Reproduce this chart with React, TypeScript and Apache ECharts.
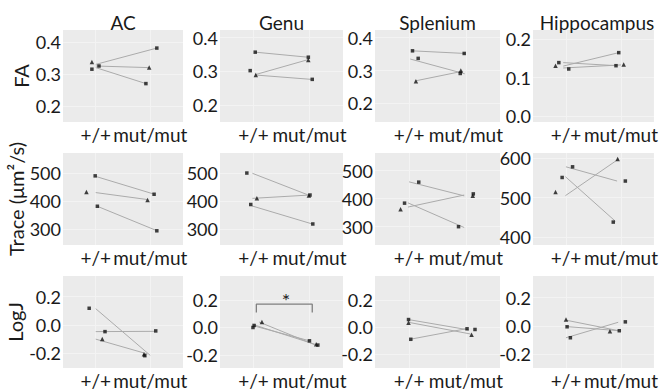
import React, { useEffect, useRef } from 'react';
import * as echarts from 'echarts';

const REGIONS = ['AC', 'Genu', 'Splenium', 'Hippocampus'];
const METRICS = ['FA', 'Trace (μm²/s)', 'LogJ'];
const GENOTYPES = ['+/+', 'mut/mut'];

// y tick labels per metric, per region
const FA_TICKS = [[0.2, 0.3, 0.4], [0.2, 0.3, 0.4], [0.2, 0.3, 0.4], [0.0, 0.1, 0.2]];
const TRACE_TICKS = [[300, 400, 500], [300, 400, 500], [300, 400, 500], [400, 500, 600]];
const LOGJ_TICKS = [[-0.2, 0.0, 0.2], [-0.2, 0.0, 0.2], [-0.2, 0.0, 0.2], [-0.2, 0.0, 0.2]];

// y extents per panel
const FA_RANGE = [[0.15, 0.4375], [0.149, 0.423], [0.143, 0.4235], [-0.0157, 0.224]];
const TRACE_RANGE = [[242, 572], [242.5, 573], [234.6, 563], [380, 613]];
const LOGJ_RANGE = [[-0.304, 0.346], [-0.295, 0.375], [-0.3, 0.376], [-0.3, 0.354]];

// points: [genotype position (jittered), value]
const FA_SQUARES = [
  [[0.93, 0.315], [1.06, 0.325], [2.12, 0.381], [1.92, 0.27]],
  [[1.03, 0.357], [0.94, 0.302], [1.98, 0.342], [2.05, 0.276]],
  [[1.06, 0.36], [1.16, 0.337], [1.97, 0.352], [1.9, 0.291]],
  [[0.87, 0.139], [1.05, 0.1224], [1.96, 0.165], [1.91, 0.131]],
];
const FA_TRIANGLES = [
  [[0.93, 0.3375], [1.98, 0.32]],
  [[1.04, 0.289], [1.98, 0.334]],
  [[1.12, 0.267], [1.91, 0.3]],
  [[0.81, 0.131], [2.05, 0.134]],
];
const FA_LINKS = [
  [[1.0, 0.33, 2.12, 0.381], [1.0, 0.325, 1.97, 0.32], [1.0, 0.32, 1.92, 0.27]],
  [[1.03, 0.357, 1.97, 0.342], [1.03, 0.29, 1.98, 0.335], [1.03, 0.289, 2.03, 0.276]],
  [[1.05, 0.36, 1.98, 0.352], [1.02, 0.335, 1.98, 0.29], [1.1, 0.268, 1.95, 0.298]],
  [[0.95, 0.13, 1.96, 0.165], [0.95, 0.139, 1.92, 0.131], [0.95, 0.125, 2.0, 0.133]],
];

const TRACE_SQUARES = [
  [[0.99, 490], [1.03, 381], [2.07, 424], [2.12, 293]],
  [[0.88, 501], [0.95, 388], [2.01, 422], [2.06, 318]],
  [[1.17, 459], [0.92, 384], [2.13, 417], [1.87, 300]],
  [[0.93, 551], [1.12, 578], [2.08, 542], [1.86, 438]],
];
const TRACE_TRIANGLES = [
  [[0.83, 432], [1.95, 403]],
  [[1.06, 410], [1.99, 420]],
  [[0.85, 362], [2.12, 410]],
  [[0.81, 514], [1.94, 598]],
];
const TRACE_LINKS = [
  [[1.0, 488, 2.06, 425], [1.0, 430, 1.95, 405], [1.04, 380, 2.1, 295]],
  [[0.98, 500, 1.98, 422], [0.98, 410, 2.0, 422], [0.97, 383, 2.05, 318]],
  [[1.0, 460, 1.97, 410], [0.98, 370, 1.97, 413], [0.98, 385, 1.97, 297]],
  [[1.0, 578, 1.93, 542], [0.99, 553, 1.9, 440], [0.99, 505, 1.96, 598]],
];

const LOGJ_SQUARES = [
  [[0.88, 0.118], [1.17, -0.047], [2.1, -0.042], [1.9, -0.217]],
  [[0.99, 0.0], [1.01, 0.015], [2.0, -0.097], [2.15, -0.128]],
  [[0.99, 0.056], [1.03, -0.089], [2.02, -0.012], [2.16, -0.017]],
  [[1.02, -0.007], [1.08, -0.085], [1.97, -0.035], [2.08, 0.028]],
];
const LOGJ_TRIANGLES = [
  [[1.12, -0.099], [1.885, -0.207]],
  [[1.15, 0.04], [2.12, -0.122]],
  [[0.99, 0.032], [2.1, -0.055]],
  [[1.0, 0.045], [1.8, -0.038]],
];
const LOGJ_LINKS = [
  [[1.0, 0.115, 2.0, -0.215], [1.0, -0.047, 2.08, -0.045], [1.0, -0.1, 1.95, -0.205]],
  [[1.0, 0.02, 2.12, -0.125], [1.02, 0.01, 2.0, -0.097], [1.1, 0.04, 2.12, -0.13]],
  [[1.0, 0.055, 2.05, -0.02], [1.0, 0.035, 2.08, -0.05], [1.03, -0.088, 2.0, -0.012]],
  [[1.0, 0.04, 1.96, -0.035], [1.0, -0.005, 1.96, -0.035], [1.0, -0.085, 1.95, 0.025]],
];

// significance bracket (Genu, LogJ)
const BRACKET = [[1.05, 0.11], [1.05, 0.17], [2.05, 0.17], [2.05, 0.11]];
const STAR = [1.58, 0.2];
const STAR_TEXT = '*';

const TICKS = [FA_TICKS, TRACE_TICKS, LOGJ_TICKS];
const RANGES = [FA_RANGE, TRACE_RANGE, LOGJ_RANGE];
const SQUARES = [FA_SQUARES, TRACE_SQUARES, LOGJ_SQUARES];
const TRIANGLES = [FA_TRIANGLES, TRACE_TRIANGLES, LOGJ_TRIANGLES];
const LINKS = [FA_LINKS, TRACE_LINKS, LOGJ_LINKS];

const COL_LEFT = [63, 220, 375, 533];
const COL_W = [120, 123, 125, 128];
const ROW_TOP = [30, 153, 276];
const ROW_H = 92;

const FONT = 'Lato, "Noto Sans", sans-serif';
const TXT = '#1a1a1a';

export default function App() {
  const ref = useRef<HTMLDivElement>(null);
  useEffect(() => {
    const chart = echarts.init(ref.current!, null, { renderer: 'svg' });
    const grid: any[] = [];
    const xAxis: any[] = [];
    const yAxis: any[] = [];
    const series: any[] = [];
    const graphic: any[] = [];

    REGIONS.forEach((reg, c) => {
      const cx = COL_LEFT[c] + COL_W[c] / 2;
      graphic.push({
        type: 'text',
        x: cx,
        y: 22,
        style: {
          text: reg,
          align: 'center',
          verticalAlign: 'middle',
          textAlign: 'center',
          textVerticalAlign: 'middle',
          fontSize: 19,
          fontFamily: FONT,
          fill: TXT,
        },
      });
    });

    for (let r = 0; r < 3; r++) {
      for (let c = 0; c < 4; c++) {
        const idx = r * 4 + c;
        grid.push({
          left: COL_LEFT[c],
          top: ROW_TOP[r],
          width: COL_W[c],
          height: ROW_H,
          show: true,
          backgroundColor: '#ebebeb',
          borderWidth: 0,
        });
        xAxis.push({
          type: 'value',
          gridIndex: idx,
          min: 0.4,
          max: 2.6,
          axisLine: { show: false },
          axisTick: { show: false },
          splitLine: { show: false },
          axisLabel: {
            customValues: [1, 2],
            formatter: (v: number) =>
              Math.abs(v - 1) < 1e-6 ? GENOTYPES[0] : Math.abs(v - 2) < 1e-6 ? GENOTYPES[1] : '',
            margin: 3,
            fontSize: 19,
            fontFamily: FONT,
            color: TXT,
          },
        });
        const ticks = TICKS[r][c];
        const range = RANGES[r][c];
        yAxis.push({
          type: 'value',
          gridIndex: idx,
          min: range[0],
          max: range[1],
          axisLine: { show: false },
          axisTick: { show: false },
          splitLine: { show: false },
          axisLabel: {
            customValues: ticks,
            formatter: (v: number) => (r === 1 ? String(Math.round(v)) : v.toFixed(1)),
            margin: 2,
            fontSize: 18,
            fontFamily: FONT,
            color: TXT,
          },
          name: c === 0 ? METRICS[r] : '',
          nameLocation: 'middle',
          nameRotate: 90,
          nameGap: 32,
          nameTextStyle: { fontSize: 20, fontFamily: FONT, color: TXT },
        });

        // faint grid lines
        series.push({
          type: 'line',
          xAxisIndex: idx,
          yAxisIndex: idx,
          data: [],
          silent: true,
          z: 0,
          markLine: {
            silent: true,
            z: 0,
            symbol: 'none',
            label: { show: false },
            lineStyle: { color: '#f3f3f3', type: 'solid', width: 1 },
            data: [{ xAxis: 1 }, { xAxis: 2 }, ...ticks.map((t) => ({ yAxis: t }))],
          },
        });

        LINKS[r][c].forEach((l) => {
          series.push({
            type: 'line',
            xAxisIndex: idx,
            yAxisIndex: idx,
            data: [
              [l[0], l[1]],
              [l[2], l[3]],
            ],
            symbol: 'none',
            silent: true,
            lineStyle: { color: '#ababab', width: 1 },
            z: 1,
          });
        });
        series.push({
          type: 'scatter',
          xAxisIndex: idx,
          yAxisIndex: idx,
          data: SQUARES[r][c],
          symbol: 'rect',
          symbolSize: 3.5,
          itemStyle: { color: '#111' },
          silent: true,
          z: 3,
        });
        series.push({
          type: 'scatter',
          xAxisIndex: idx,
          yAxisIndex: idx,
          data: TRIANGLES[r][c],
          symbol: 'triangle',
          symbolSize: 4.5,
          itemStyle: { color: '#111' },
          silent: true,
          z: 3,
        });
        if (r === 2 && c === 1) {
          series.push({
            type: 'line',
            xAxisIndex: idx,
            yAxisIndex: idx,
            data: BRACKET,
            symbol: 'none',
            silent: true,
            lineStyle: { color: '#808080', width: 1.3 },
            z: 2,
          });
        }
      }
    }

    chart.setOption({
      animation: false,
      backgroundColor: '#ffffff',
      grid,
      xAxis,
      yAxis,
      series,
      graphic,
    });

    // significance star placed through the Genu/LogJ panel's own scales
    const starPx = chart.convertToPixel({ xAxisIndex: 9, yAxisIndex: 9 }, STAR) as number[];
    if (starPx && isFinite(starPx[0]) && isFinite(starPx[1])) {
      chart.setOption({
        graphic: [
          ...graphic,
          {
            type: 'text',
            x: starPx[0],
            y: starPx[1],
            z: 10,
            style: {
              text: STAR_TEXT,
              align: 'center',
              verticalAlign: 'middle',
              textAlign: 'center',
              textVerticalAlign: 'middle',
              fontSize: 20,
              fontFamily: FONT,
              fill: '#222222',
            },
          },
        ],
      });
    }
    return () => chart.dispose();
  }, []);
  return (
    <div
      ref={ref}
      style={{ position: 'fixed', left: 0, top: 0, width: '661px', height: '391px' }}
    />
  );
}
